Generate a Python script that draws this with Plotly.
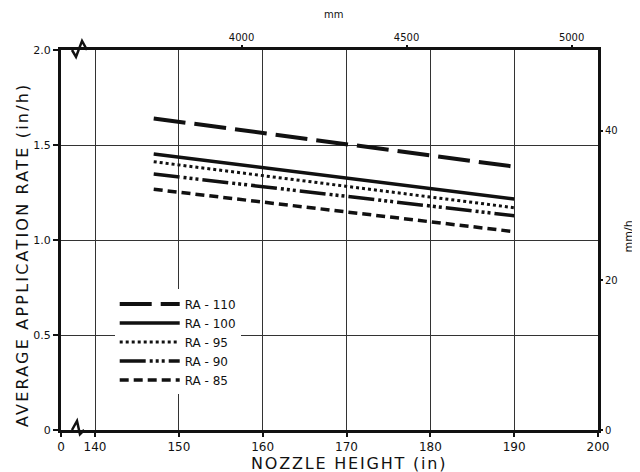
import plotly.graph_objects as go

# ---- data ----
nozzle_height_in = [147, 190]
series_names = ["RA - 110", "RA - 100", "RA - 95", "RA - 90", "RA - 85"]
ra110 = [1.640, 1.386]
ra100 = [1.453, 1.216]
ra95 = [1.412, 1.170]
ra90 = [1.347, 1.128]
ra85 = [1.267, 1.044]
series_values = [ra110, ra100, ra95, ra90, ra85]

x_tick_vals = [140, 150, 160, 170, 180, 190, 200]
x_tick_text = ["140", "150", "160", "170", "180", "190", "200"]
y_tick_vals = [0, 0.5, 1.0, 1.5, 2.0]
y_tick_text = ["0", "0.5", "1.0", "1.5", "2.0"]
mm_ticks = [4000, 4500, 5000]
mmh_ticks = [0, 20, 40]

MM_PER_IN = 25.4
X_START = 135.94   # broken-axis origin (labelled "0")
X_END = 200
Y_MAX = 2.0

styles = [
    dict(dash="32px,9px", width=4),
    dict(dash="solid", width=3.5),
    dict(dash="3px,3px", width=3),
    dict(dash="26px,4px,3px,3px,3px,3px,3px,4px", width=3.5),
    dict(dash="9px,5px", width=3.5),
]

FONT = "DejaVu Sans, Liberation Sans, sans-serif"
INK = "#111111"


def spaced(text, px):
    return f'<span style="letter-spacing:{px}px">{text}</span>'


fig = go.Figure()
for name, vals, st in zip(series_names, series_values, styles):
    fig.add_trace(go.Scatter(
        x=nozzle_height_in, y=vals, mode="lines", name=name,
        line=dict(color=INK, width=st["width"], dash=st["dash"]),
        xaxis="x", yaxis="y",
    ))

# invisible helper trace to activate secondary axes
fig.add_trace(go.Scatter(x=[X_START], y=[0], xaxis="x2", yaxis="y2",
                         mode="markers", marker=dict(opacity=0),
                         showlegend=False, hoverinfo="skip"))

fig.update_layout(
    width=632, height=464,
    margin=dict(l=53, r=42, t=42, b=42, autoexpand=False),
    paper_bgcolor="white", plot_bgcolor="white",
    font=dict(family=FONT, color=INK, size=11),
    showlegend=True,
    legend=dict(
        x=0.1, y=0.37, xanchor="left", yanchor="top",
        bgcolor="white", borderwidth=0,
        font=dict(size=12, family=FONT, color=INK),
        tracegroupgap=0, itemwidth=60,
    ),
    xaxis=dict(
        range=[X_START, X_END], automargin=False,
        tickvals=[X_START] + x_tick_vals, ticktext=["0"] + x_tick_text,
        showgrid=True, gridcolor="#333333", gridwidth=1.3,
        showline=True, linecolor=INK, linewidth=3, mirror=True,
        ticks="outside", ticklen=4, tickcolor=INK, tickwidth=2,
        tickfont=dict(size=12), zeroline=False,
    ),
    xaxis2=dict(
        overlaying="x", side="top", automargin=False,
        range=[X_START, X_END],
        tickvals=[v / MM_PER_IN for v in mm_ticks],
        ticktext=[str(v) for v in mm_ticks],
        showgrid=False, showline=False,
        ticks="outside", ticklen=4, tickcolor=INK, tickwidth=2,
        tickfont=dict(size=10), zeroline=False,
    ),
    yaxis=dict(
        range=[0, Y_MAX], automargin=False,
        tickvals=y_tick_vals, ticktext=y_tick_text,
        showgrid=True, gridcolor="#333333", gridwidth=1,
        showline=True, linecolor=INK, linewidth=3, mirror=True,
        ticks="outside", ticklen=5, tickcolor=INK, tickwidth=2,
        tickfont=dict(size=11), zeroline=False,
    ),
    yaxis2=dict(
        overlaying="y", side="right", automargin=False,
        range=[0, Y_MAX * MM_PER_IN],
        tickvals=mmh_ticks, ticktext=[str(v) for v in mmh_ticks],
        showgrid=False, showline=False,
        ticks="outside", ticklen=4, tickcolor=INK, tickwidth=2,
        tickfont=dict(size=10), zeroline=False,
    ),
    annotations=[
        dict(text=spaced("NOZZLE HEIGHT (in)", 1.8), xref="paper", yref="paper",
             x=0.5, y=0, yshift=-33, xshift=19, showarrow=False,
             yanchor="middle", font=dict(size=16, family=FONT)),
        dict(text=spaced("AVERAGE APPLICATION RATE (in/h)", 2.2),
             xref="paper", yref="paper",
             x=0, y=0.5, xshift=-39, yshift=-15, showarrow=False, textangle=-90,
             xanchor="center", yanchor="middle", font=dict(size=16, family=FONT)),
        dict(text="mm", xref="paper", yref="paper",
             x=0.5, y=1, yshift=36, xshift=4, showarrow=False,
             yanchor="middle", font=dict(size=10, family=FONT)),
        dict(text="mm/h", xref="paper", yref="paper",
             x=1, y=0.5, xshift=38, yshift=3, showarrow=False, textangle=-90,
             font=dict(size=11, family=FONT)),
    ],
    shapes=[
        # axis break marks on the x axis (top and bottom)
        dict(type="path", xref="x", yref="paper", layer="above",
             path="M 137.25,1 L 137.73,0.982 L 138.45,1.024 L 139.04,1",
             line=dict(color=INK, width=2.5)),
        dict(type="path", xref="x", yref="paper", layer="above",
             path="M 137.25,0 L 137.85,0.024 L 138.2,-0.011 L 138.7,0",
             line=dict(color=INK, width=2.5)),
    ],
)

fig.write_html("out.html")
